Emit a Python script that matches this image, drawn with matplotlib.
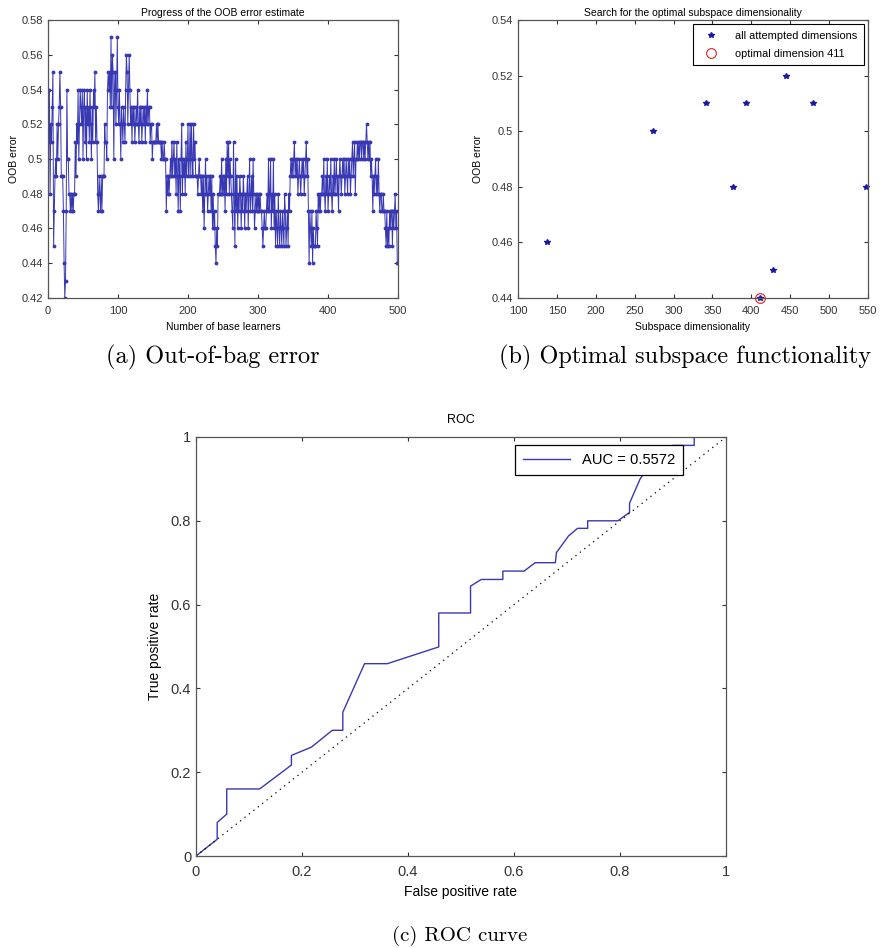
import numpy as np
import matplotlib.pyplot as plt
from matplotlib.ticker import FormatStrFormatter

plt.rcParams['font.family'] = ['Liberation Sans', 'DejaVu Sans']

# OOB error (in hundredths) after each of the 500 base learners
oob_pct = [
    51, 54, 48, 52, 51, 53, 55, 45, 47, 49,
    50, 49, 52, 50, 52, 53, 55, 53, 49, 49,
    49, 47, 44, 42, 43, 47, 54, 50, 50, 48,
    48, 47, 48, 47, 48, 47, 48, 48, 51, 49,
    52, 51, 54, 50, 52, 54, 53, 52, 54, 50,
    53, 54, 51, 53, 50, 54, 52, 53, 51, 54,
    52, 50, 53, 51, 54, 53, 55, 51, 53, 51,
    48, 47, 49, 48, 47, 49, 47, 49, 49, 49,
    52, 51, 51, 50, 54, 55, 54, 55, 53, 57,
    53, 56, 55, 50, 54, 55, 52, 54, 57, 53,
    52, 54, 52, 50, 53, 52, 51, 53, 52, 51,
    54, 56, 55, 52, 54, 56, 54, 52, 53, 51,
    53, 52, 53, 51, 52, 53, 52, 54, 52, 51,
    53, 52, 53, 51, 52, 53, 52, 53, 51, 53,
    52, 54, 52, 53, 53, 51, 52, 52, 50, 51,
    51, 51, 51, 51, 52, 51, 52, 51, 51, 51,
    51, 50, 51, 50, 50, 51, 50, 50, 47, 49,
    48, 49, 48, 49, 50, 49, 51, 49, 50, 51,
    49, 50, 48, 51, 49, 47, 50, 49, 47, 50,
    52, 48, 50, 49, 50, 48, 51, 49, 50, 52,
    49, 50, 52, 49, 52, 50, 49, 52, 50, 51,
    49, 49, 49, 48, 49, 50, 49, 49, 48, 49,
    47, 49, 46, 48, 50, 48, 49, 47, 48, 49,
    48, 49, 47, 49, 46, 48, 46, 47, 45, 44,
    46, 45, 48, 48, 48, 49, 48, 50, 48, 49,
    48, 49, 47, 50, 48, 51, 49, 51, 48, 50,
    49, 48, 47, 46, 51, 48, 45, 50, 47, 49,
    46, 48, 47, 49, 48, 46, 48, 47, 49, 48,
    46, 48, 47, 48, 49, 46, 48, 50, 47, 48,
    49, 47, 50, 48, 46, 47, 48, 47, 48, 47,
    48, 47, 48, 47, 47, 46, 45, 46, 47, 46,
    46, 47, 48, 47, 50, 47, 48, 50, 46, 48,
    47, 50, 46, 48, 45, 47, 46, 45, 48, 46,
    45, 47, 46, 45, 47, 46, 45, 48, 47, 45,
    46, 47, 45, 48, 47, 49, 50, 49, 50, 49,
    50, 51, 49, 50, 49, 50, 48, 49, 50, 49,
    48, 49, 50, 49, 50, 48, 49, 50, 51, 49,
    50, 47, 44, 47, 46, 45, 47, 44, 46, 45,
    45, 45, 47, 46, 45, 48, 47, 48, 47, 48,
    48, 49, 48, 50, 48, 47, 49, 48, 50, 47,
    48, 49, 48, 50, 48, 47, 49, 48, 50, 48,
    49, 50, 48, 49, 47, 49, 50, 49, 48, 49,
    50, 49, 50, 48, 49, 50, 49, 48, 50, 49,
    50, 48, 49, 50, 51, 49, 50, 51, 48, 50,
    50, 51, 50, 51, 50, 51, 51, 50, 51, 51,
    50, 51, 50, 51, 52, 51, 50, 51, 50, 51,
    49, 50, 49, 47, 49, 48, 49, 50, 48, 49,
    48, 50, 48, 47, 48, 48, 47, 47, 48, 47,
    47, 46, 45, 47, 45, 46, 45, 47, 46, 47,
    47, 45, 47, 46, 47, 48, 46, 47, 44, 44,
]
learners = np.arange(1, len(oob_pct) + 1)
oob_error = np.array(oob_pct) / 100.0

# subspace search
dims = [137, 274, 342, 376, 393, 411, 428, 445, 479, 548]
dim_error = [0.46, 0.50, 0.51, 0.48, 0.51, 0.44, 0.45, 0.52, 0.51, 0.48]
best_dim = 411
best_error = 0.44

# ROC curve
fpr = [0, 0.04, 0.04, 0.058, 0.058, 0.12, 0.18, 0.18, 0.218, 0.257, 0.277, 0.277,
       0.318, 0.361, 0.458, 0.458, 0.518, 0.518, 0.538, 0.579, 0.579, 0.619, 0.64,
       0.678, 0.68, 0.703, 0.72, 0.739, 0.739, 0.796, 0.818, 0.818, 0.838, 0.86,
       0.9, 0.94, 0.94, 1.0]
tpr = [0, 0.04, 0.08, 0.10, 0.16, 0.16, 0.217, 0.24, 0.26, 0.30, 0.30, 0.343,
       0.459, 0.459, 0.499, 0.58, 0.58, 0.644, 0.66, 0.66, 0.68, 0.68, 0.70,
       0.70, 0.724, 0.764, 0.782, 0.782, 0.80, 0.80, 0.82, 0.842, 0.90, 0.94,
       0.98, 0.98, 1.0, 1.0]
auc = 0.5572

blue = '#3838b4'
fig = plt.figure(figsize=(8.83, 9.48), dpi=100)


def matlab_box(ax, size, pad):
    ax.tick_params(direction='in', top=True, right=True, labelsize=size,
                   length=3, width=0.8, colors='#333333')
    ax.tick_params(axis='x', pad=pad)
    for s in ax.spines.values():
        s.set_color('#555555')
        s.set_linewidth(0.9)


# (a)
ax1 = fig.add_axes([48 / 883, 1 - 298 / 948, 350 / 883, 278 / 948])
ax1.plot(learners, oob_error, '-', color=blue, lw=0.7, marker='.', ms=3.5)
ax1.set_xlim(0, 500)
ax1.set_ylim(0.42, 0.58)
ax1.set_yticks(np.arange(0.42, 0.581, 0.02))
ax1.yaxis.set_major_formatter(FormatStrFormatter('%g'))
ax1.set_title('Progress of the OOB error estimate', fontsize=7.5, pad=3)
ax1.set_xlabel('Number of base learners', fontsize=7.5, labelpad=4)
ax1.set_ylabel('OOB error', fontsize=7.5, labelpad=2)
matlab_box(ax1, 8, 6)

# (b)
ax2 = fig.add_axes([518 / 883, 1 - 298 / 948, 350 / 883, 278 / 948])
ax2.plot(dims, dim_error, linestyle='none', marker='*', ms=4, color='#1a1aa0',
         label='all attempted dimensions')
ax2.plot([best_dim], [best_error], linestyle='none', marker='o', ms=7, mfc='none',
         mec='#dd2222', mew=0.8, label='optimal dimension %d' % best_dim)
ax2.set_xlim(100, 550)
ax2.set_ylim(0.44, 0.54)
ax2.set_xticks(np.arange(100, 551, 50))
ax2.set_yticks(np.arange(0.44, 0.541, 0.02))
ax2.yaxis.set_major_formatter(FormatStrFormatter('%g'))
ax2.set_title('Search for the optimal subspace dimensionality', fontsize=7.5, pad=3)
ax2.set_xlabel('Subspace dimensionality', fontsize=7.5, labelpad=4)
ax2.set_ylabel('OOB error', fontsize=7.5, labelpad=6)
leg2 = ax2.legend(loc='upper right', fontsize=7.9, fancybox=False, framealpha=1,
                  edgecolor='black', borderaxespad=0, handletextpad=1.2,
                  labelspacing=0.75, borderpad=0.6,
                  bbox_to_anchor=(864 / 883, 1 - 24 / 948),
                  bbox_transform=fig.transFigure)
leg2.get_frame().set_linewidth(0.8)
for ln in ax2.lines:
    ln.set_clip_on(False)
matlab_box(ax2, 8, 6)

# (c)
ax3 = fig.add_axes([196 / 883, 1 - 856 / 948, 530 / 883, 419 / 948])
ax3.plot(fpr, tpr, color=blue, lw=1.0, label='AUC = %.4f' % auc)
ax3.plot([0, 1], [0, 1], linestyle=(0, (1, 3.5)), color='black', lw=0.9)
ax3.set_xlim(0, 1)
ax3.set_ylim(0, 1)
ax3.set_xticks(np.arange(0, 1.01, 0.2))
ax3.set_yticks(np.arange(0, 1.01, 0.2))
ax3.xaxis.set_major_formatter(FormatStrFormatter('%g'))
ax3.yaxis.set_major_formatter(FormatStrFormatter('%g'))
ax3.set_title('ROC', fontsize=9, pad=10)
ax3.set_xlabel('False positive rate', fontsize=10, labelpad=4)
ax3.set_ylabel('True positive rate', fontsize=10, labelpad=6)
leg3 = ax3.legend(loc='upper right', fontsize=10.6, fancybox=False, framealpha=1,
                  edgecolor='black', borderaxespad=0, handlelength=3.2,
                  borderpad=0.55,
                  bbox_to_anchor=(683 / 883, 1 - 445 / 948),
                  bbox_transform=fig.transFigure)
leg3.get_frame().set_linewidth(0.9)
matlab_box(ax3, 10.5, 6.5)

cap = dict(family='cmr10', ha='center', va='center')
fig.text(213 / 883, 1 - 357 / 948, '(a) Out-of-bag error', fontsize=17.5, **cap)
fig.text(685 / 883, 1 - 357 / 948, '(b) Optimal subspace functionality',
         fontsize=17.5, **cap)
fig.text(460 / 883, 1 - 936 / 948, '(c) ROC curve', fontsize=15, **cap)

fig.savefig('out.png', dpi=100)
